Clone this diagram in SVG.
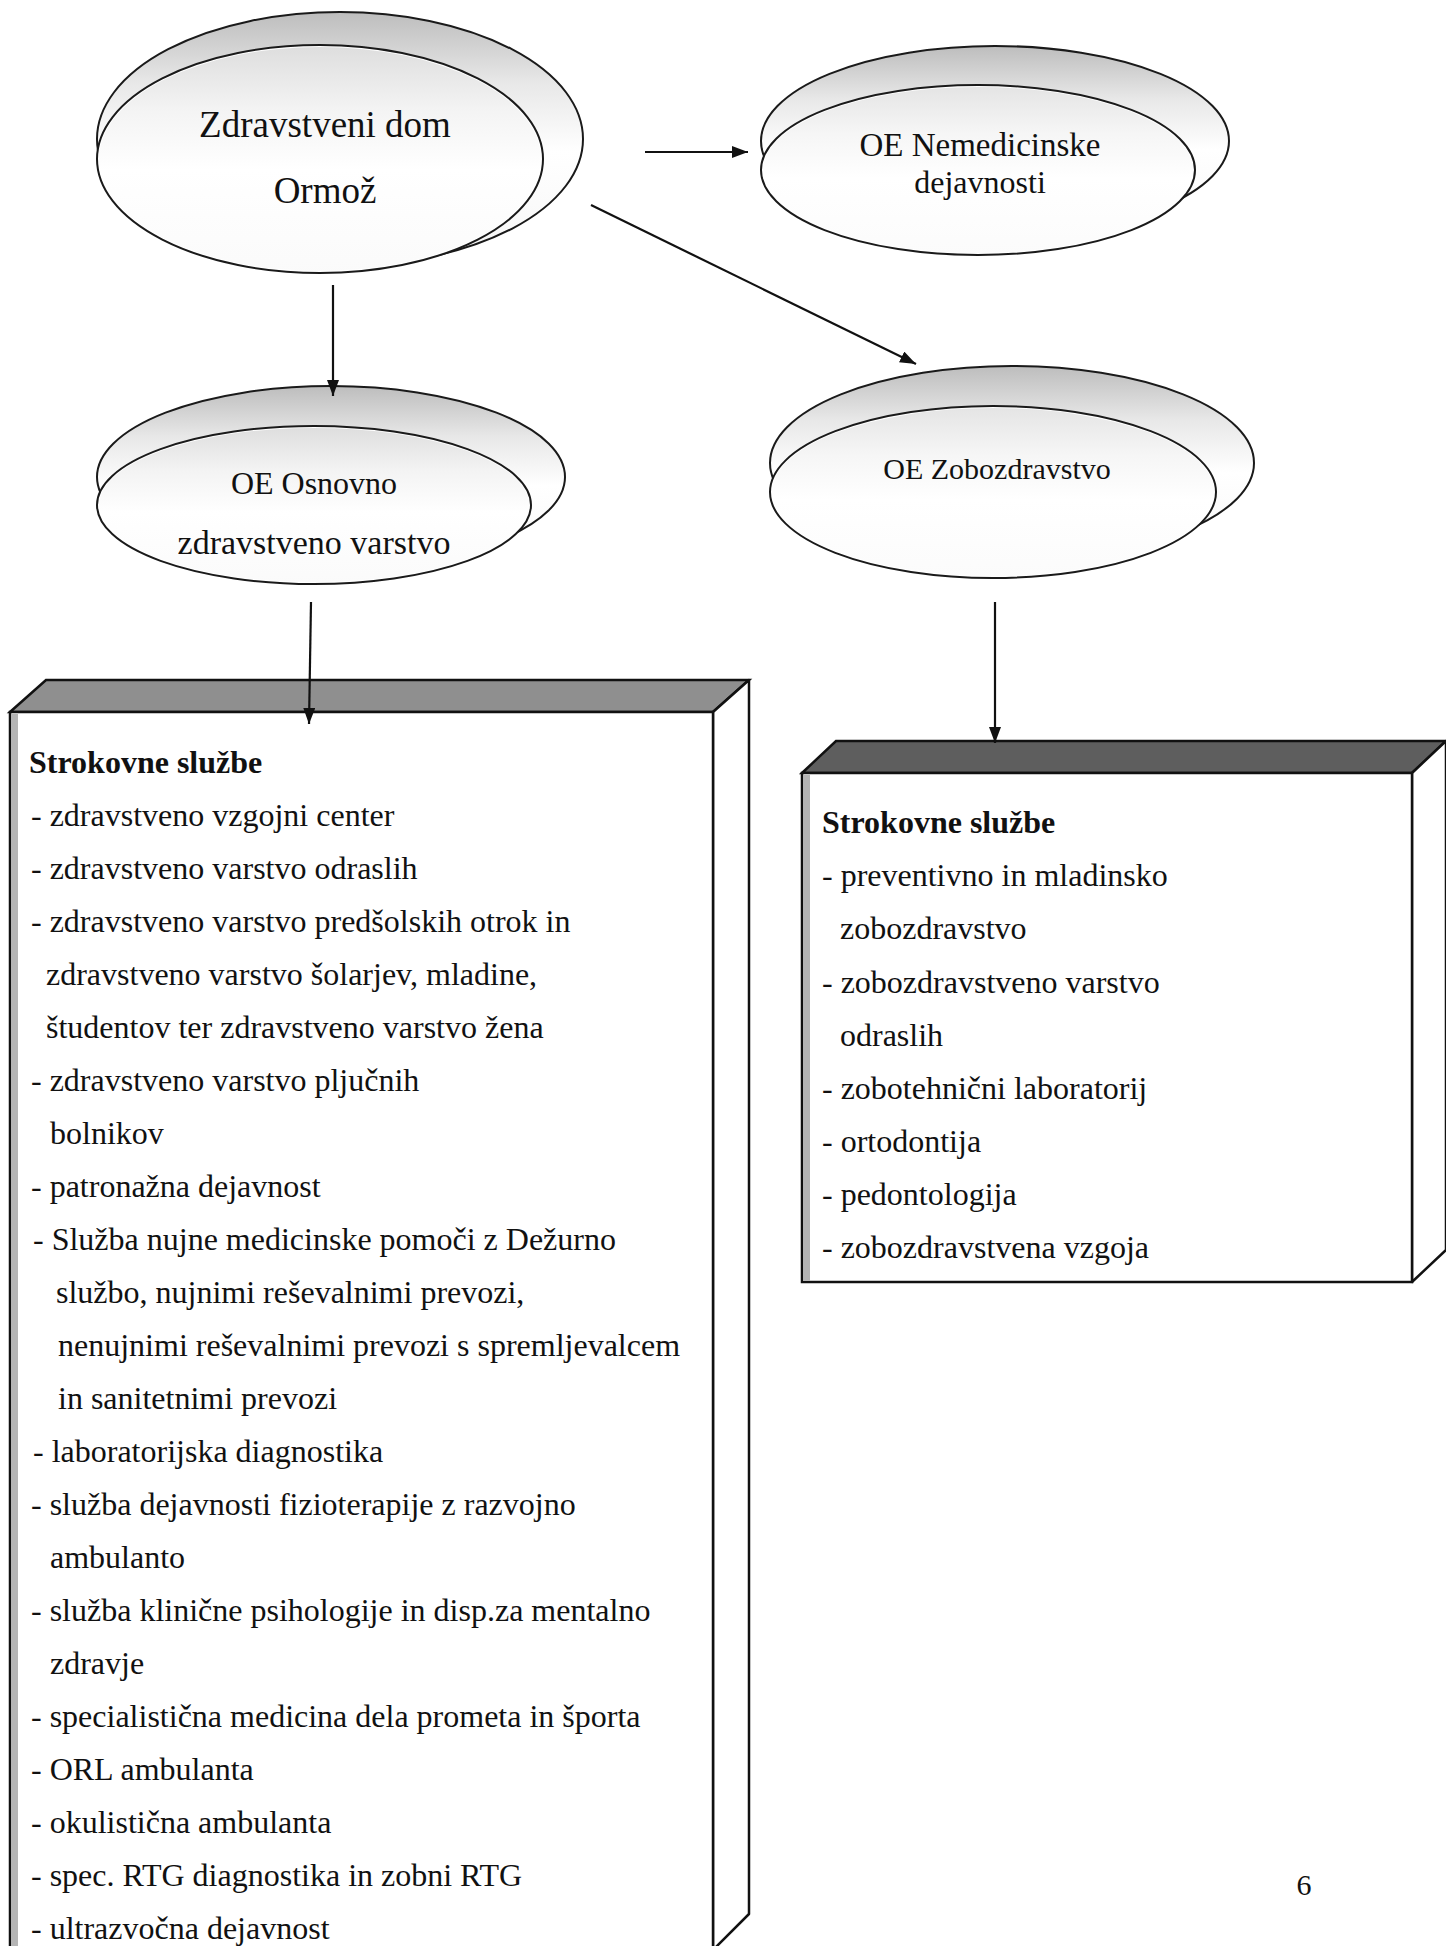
<svg xmlns="http://www.w3.org/2000/svg" width="1446" height="1946" viewBox="0 0 1446 1946">
<style>
.bg{fill:#ffffff}
.ell{fill:#ffffff;stroke:#1a1a1a;stroke-width:2}
.shade{fill:url(#topShade);stroke:none}
.t{font-family:"Liberation Serif","Times New Roman",serif;fill:#111111}
.c{text-anchor:middle}
.b{font-weight:bold}
.front{fill:#ffffff;stroke:#111111;stroke-width:2.5}
.side{fill:#ffffff;stroke:#111111;stroke-width:2.5;stroke-linejoin:round}
.topL{fill:#8f8f8f;stroke:#111111;stroke-width:2.5}
.topR{fill:#5e5e5e;stroke:#111111;stroke-width:2.5}
.edge{fill:#b5b5b5;stroke:none}
.con{fill:none;stroke:#111111;stroke-width:2.2}
</style>
<defs>
<linearGradient id="topShade" x1="0" y1="0" x2="0" y2="1">
<stop offset="0" stop-color="#bdbdbd"/>
<stop offset="0.28" stop-color="#e8e8e8"/>
<stop offset="0.55" stop-color="#ffffff"/>
<stop offset="1" stop-color="#f6f6f6"/>
</linearGradient>
<marker id="arr" markerUnits="userSpaceOnUse" viewBox="0 0 16 12" refX="16" refY="6" markerWidth="16" markerHeight="12" orient="auto">
<path d="M0,0 L16,6 L0,12 z" fill="#111111"/>
</marker>
</defs>
<rect class="bg" x="0" y="0" width="1446" height="1946"/>

<g id="node-zd-ormoz">
<ellipse class="ell" cx="340" cy="139" rx="243" ry="127" style="fill:url(#topShade)"/>
<ellipse class="ell" cx="320" cy="159" rx="223" ry="114"/>
<ellipse class="shade" cx="320" cy="159" rx="221" ry="112" opacity="0.5"/>
<text class="t c" x="325" y="137" font-size="37">Zdravstveni dom</text>
<text class="t c" x="325" y="203" font-size="37">Ormož</text>
</g>

<g id="node-oe-nemedicinske">
<ellipse class="ell" cx="995" cy="141" rx="234" ry="95" style="fill:url(#topShade)"/>
<ellipse class="ell" cx="978" cy="170" rx="217" ry="85"/>
<ellipse class="shade" cx="978" cy="170" rx="215" ry="83" opacity="0.4"/>
<text class="t c" x="980" y="156" font-size="33">OE Nemedicinske</text>
<text class="t c" x="980" y="193" font-size="32">dejavnosti</text>
</g>

<g id="node-oe-osnovno">
<ellipse class="ell" cx="331" cy="477" rx="234" ry="91" style="fill:url(#topShade)"/>
<ellipse class="ell" cx="314" cy="505" rx="217" ry="79"/>
<ellipse class="shade" cx="314" cy="505" rx="215" ry="77" opacity="0.5"/>
<text class="t c" x="314" y="494" font-size="32">OE Osnovno</text>
<text class="t c" x="314" y="554" font-size="34">zdravstveno varstvo</text>
</g>

<g id="node-oe-zobozdravstvo">
<ellipse class="ell" cx="1012" cy="463" rx="242" ry="97" style="fill:url(#topShade)"/>
<ellipse class="ell" cx="993" cy="492" rx="223" ry="86"/>
<ellipse class="shade" cx="993" cy="492" rx="221" ry="84" opacity="0.4"/>
<text class="t c" x="997" y="479" font-size="30">OE Zobozdravstvo</text>
</g>

<g id="node-strokovne-levo">
<polygon class="topL" points="10,712 46,680 749,680 713,712"/>
<polygon class="side" points="713,712 749,680 749,1914 713,1950"/>
<rect class="front" x="10" y="712" width="703" height="1240"/>
<rect class="edge" x="11" y="714" width="7" height="1236"/>
<g class="t" font-size="32">
<text class="b" x="29" y="773">Strokovne službe</text>
<text x="31" y="826">- zdravstveno vzgojni center</text>
<text x="31" y="879">- zdravstveno varstvo odraslih</text>
<text x="31" y="932">- zdravstveno varstvo predšolskih otrok in</text>
<text x="46" y="985">zdravstveno varstvo šolarjev,  mladine,</text>
<text x="46" y="1038">študentov  ter zdravstveno varstvo žena</text>
<text x="31" y="1091">- zdravstveno varstvo pljučnih</text>
<text x="50" y="1144">bolnikov</text>
<text x="31" y="1197">- patronažna dejavnost</text>
<text x="33" y="1250">- Služba nujne medicinske pomoči z Dežurno</text>
<text x="56" y="1303">službo, nujnimi reševalnimi prevozi,</text>
<text x="58" y="1356">nenujnimi reševalnimi prevozi s spremljevalcem</text>
<text x="58" y="1409">in sanitetnimi prevozi</text>
<text x="33" y="1462">- laboratorijska diagnostika</text>
<text x="31" y="1515">- služba dejavnosti fizioterapije z razvojno</text>
<text x="50" y="1568">ambulanto</text>
<text x="31" y="1621">- služba klinične psihologije in disp.za mentalno</text>
<text x="50" y="1674">zdravje</text>
<text x="31" y="1727">- specialistična medicina dela prometa in športa</text>
<text x="31" y="1780">- ORL ambulanta</text>
<text x="31" y="1833">- okulistična ambulanta</text>
<text x="31" y="1886">- spec. RTG diagnostika in zobni RTG</text>
<text x="31" y="1939">- ultrazvočna dejavnost</text>
</g>
</g>

<g id="node-strokovne-desno">
<polygon class="topR" points="802,773 836,741 1446,741 1412,773"/>
<polygon class="side" points="1412,773 1446,741 1446,1250 1412,1282"/>
<rect class="front" x="802" y="773" width="610" height="509"/>
<rect class="edge" x="803" y="775" width="7" height="506"/>
<g class="t" font-size="32">
<text class="b" x="822" y="833">Strokovne službe</text>
<text x="822" y="886">- preventivno in mladinsko</text>
<text x="840" y="939">zobozdravstvo</text>
<text x="822" y="993">- zobozdravstveno varstvo</text>
<text x="840" y="1046">odraslih</text>
<text x="822" y="1099">- zobotehnični laboratorij</text>
<text x="822" y="1152">- ortodontija</text>
<text x="822" y="1205">- pedontologija</text>
<text x="822" y="1258">- zobozdravstvena vzgoja</text>
</g>
</g>

<g id="connectors">
<line class="con" x1="645" y1="152" x2="748" y2="152" marker-end="url(#arr)"/>
<line class="con" x1="591" y1="205" x2="916" y2="364" marker-end="url(#arr)"/>
<line class="con" x1="333" y1="285" x2="333" y2="396" marker-end="url(#arr)"/>
<line class="con" x1="311" y1="602" x2="309" y2="724" marker-end="url(#arr)"/>
<line class="con" x1="995" y1="602" x2="995" y2="743" marker-end="url(#arr)"/>
</g>

<text id="page-number" class="t c" x="1304" y="1895" font-size="30">6</text>
</svg>
